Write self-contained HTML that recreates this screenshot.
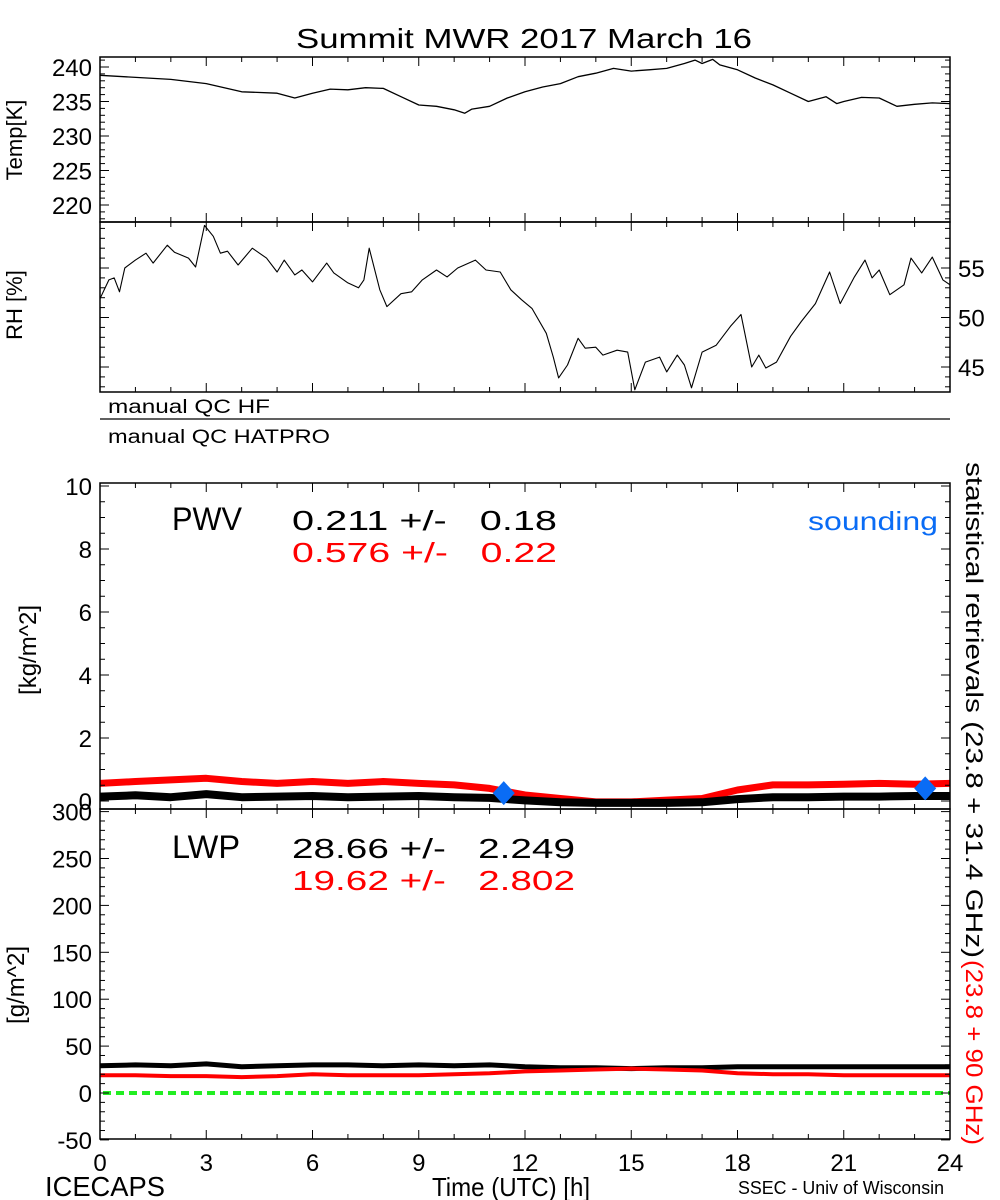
<!DOCTYPE html>
<html><head><meta charset="utf-8"><style>
html,body{margin:0;padding:0;background:#fff;}
svg{display:block;font-family:"Liberation Sans Narrow","Liberation Sans",sans-serif;}
</style></head><body>
<svg id="chart" width="1000" height="1200" viewBox="0 0 1000 1200" xmlns="http://www.w3.org/2000/svg">
<rect x="0" y="0" width="1000" height="1200" fill="#fff"/>
<text x="296" y="48" font-size="28" textLength="456" lengthAdjust="spacingAndGlyphs">Summit MWR 2017 March 16</text>
<g id="marks"></g>
<g id="axes"></g>
<text transform="translate(22,140) rotate(-90)" font-size="22" text-anchor="middle">Temp[K]</text>
<text transform="translate(22,305) rotate(-90)" font-size="22" text-anchor="middle">RH [%]</text>
<text transform="translate(36,650) rotate(-90)" font-size="24" text-anchor="middle">[kg/m^2]</text>
<text transform="translate(24,985) rotate(-90)" font-size="24" text-anchor="middle">[g/m^2]</text>
<line x1="100" y1="419" x2="950" y2="419" stroke="#000" stroke-width="1.2"/>
<text x="108" y="413" font-size="19" textLength="162" lengthAdjust="spacingAndGlyphs">manual QC HF</text>
<text x="108" y="443" font-size="19" textLength="222" lengthAdjust="spacingAndGlyphs">manual QC HATPRO</text>
<text x="172" y="530" font-size="32" textLength="70" lengthAdjust="spacingAndGlyphs">PWV</text>
<text x="292" y="530" font-size="28" xml:space="preserve" textLength="265" lengthAdjust="spacingAndGlyphs">0.211 +/-   0.18</text>
<text x="292" y="562" font-size="28" fill="#ff0000" xml:space="preserve" textLength="265" lengthAdjust="spacingAndGlyphs">0.576 +/-   0.22</text>
<text x="808" y="530" font-size="26" fill="#0a6cf5" textLength="130" lengthAdjust="spacingAndGlyphs">sounding</text>
<text x="172" y="858" font-size="32" textLength="68" lengthAdjust="spacingAndGlyphs">LWP</text>
<text x="292" y="858" font-size="28" xml:space="preserve" textLength="283" lengthAdjust="spacingAndGlyphs">28.66 +/-   2.249</text>
<text x="292" y="890" font-size="28" fill="#ff0000" xml:space="preserve" textLength="283" lengthAdjust="spacingAndGlyphs">19.62 +/-   2.802</text>
<text transform="translate(966,462) rotate(90)" font-size="24" textLength="496" lengthAdjust="spacingAndGlyphs">statistical retrievals (23.8 + 31.4 GHz)</text>
<text transform="translate(966,960) rotate(90)" font-size="24" fill="#ff0000" textLength="185" lengthAdjust="spacingAndGlyphs">(23.8 + 90 GHz)</text>
<text x="45" y="1196" font-size="28" textLength="120" lengthAdjust="spacingAndGlyphs">ICECAPS</text>
<text x="432" y="1196" font-size="26" textLength="158" lengthAdjust="spacingAndGlyphs">Time (UTC) [h]</text>
<text x="738" y="1194" font-size="18" textLength="206" lengthAdjust="spacingAndGlyphs">SSEC - Univ of Wisconsin</text>
</svg>
<script>
const tempHours = [0,2,3,4,5,5.5,6,6.5,7,7.5,8,8.5,9,9.5,10,10.3,10.5,11,11.5,12,12.5,13,13.5,14,14.5,15,15.5,16,16.5,16.8,17,17.3,17.5,18,18.5,19,19.5,20,20.5,20.8,21,21.5,22,22.5,23,23.5,24];
const tempValues = [238.8,238.2,237.6,236.4,236.2,235.5,236.2,236.8,236.7,237,236.9,235.7,234.5,234.3,233.8,233.3,233.9,234.3,235.5,236.4,237.1,237.6,238.6,239.1,239.8,239.4,239.6,239.8,240.5,241,240.5,241.1,240.3,239.6,238.4,237.4,236.2,235,235.7,234.7,235,235.6,235.5,234.3,234.6,234.8,234.7];
const rhHours = [0,0.25,0.4,0.55,0.7,1,1.3,1.5,1.9,2.1,2.5,2.7,2.95,3.2,3.4,3.6,3.9,4.3,4.7,5,5.2,5.5,5.7,6,6.4,6.6,7,7.3,7.45,7.6,7.9,8.1,8.5,8.8,9.1,9.5,9.8,10.1,10.6,10.9,11.3,11.6,11.9,12.2,12.6,12.8,12.95,13.2,13.5,13.7,14,14.2,14.6,14.9,15.1,15.4,15.8,16,16.3,16.5,16.7,17,17.4,17.8,18.1,18.4,18.6,18.8,19.1,19.5,19.8,20.2,20.6,20.9,21.3,21.6,21.8,22,22.3,22.7,22.9,23.2,23.5,23.8,24];
const rhValues = [51.9,53.8,54,52.6,55,55.8,56.5,55.5,57.3,56.6,56,55.1,59.3,58.2,56.5,56.7,55.3,57,56,54.6,55.8,54.3,54.8,53.6,55.5,54.5,53.5,53,53.8,57,52.8,51.1,52.4,52.6,53.8,54.8,54.1,55,55.8,54.8,54.6,52.8,51.8,50.9,48.4,46,43.9,45.2,47.9,46.9,47,46.2,46.7,46.5,42.7,45.5,46,44.5,46.2,45.2,42.9,46.5,47.2,49.1,50.3,45,46.2,44.9,45.5,48.1,49.6,51.4,54.6,51.4,54.1,55.8,54,54.8,52.3,53.3,56,54.5,56.1,53.8,53.3];
const hourly = [0,1,2,3,4,5,6,7,8,9,10,11,12,13,14,15,16,17,18,19,20,21,22,23,24];
const pwvRed = [0.56,0.62,0.67,0.72,0.62,0.56,0.62,0.56,0.62,0.56,0.51,0.40,0.19,0.08,-0.03,-0.03,0.03,0.08,0.35,0.51,0.51,0.53,0.56,0.53,0.56];
const pwvBlack = [0.14,0.18,0.12,0.22,0.12,0.14,0.16,0.12,0.14,0.16,0.12,0.1,0.02,-0.04,-0.06,-0.06,-0.06,-0.04,0.06,0.12,0.12,0.14,0.14,0.16,0.16];
const soundingHours = [11.4,23.3];
const soundingValues = [0.25,0.40];
const lwpBlack = [29,30,29,31,28,29,30,30,29,30,29,30,28,27,27,26,27,27,28,28,28,28,28,28,28];
const lwpRed = [19,19,18,18,17,18,20,19,19,19,20,21,23,24,25,26,25,24,21,20,20,19,19,19,19];
const xTickLabels = ["0","3","6","9","12","15","18","21","24"];
const tempTicks = [220,225,230,235,240];
const rhTicks = [45,50,55];
const pwvTicks = [0,2,4,6,8,10];
const lwpTicks = [-50,0,50,100,150,200,250,300];

const X0 = 100, X1 = 950;
const x = h => X0 + (X1 - X0) * h / 24;
const yTemp = v => 67 + (240 - v) * 34.5 / 5;
const yRH = v => 268 + (55 - v) * 49.5 / 5;
const yPWV = v => 801 - v * 31.5;
const yLWP = v => 1093 - v * 46.9 / 50;
const panels = [
  {name:'temp', top:57, bottom:222},
  {name:'rh', top:222, bottom:392},
  {name:'pwv', top:483, bottom:809},
  {name:'lwp', top:809, bottom:1139}
];
const NS = 'http://www.w3.org/2000/svg';
const marks = document.getElementById('marks');
const axes = document.getElementById('axes');
function mk(tag, parent){const e=document.createElementNS(NS,tag);parent.appendChild(e);return e;}
function pts(hs, vs, fy){return hs.map((h,i)=>x(h).toFixed(1)+','+fy(vs[i]).toFixed(1)).join(' ');}

const defs = mk('defs', marks);
panels.forEach(p=>{
  const c = mk('clipPath', defs); c.setAttribute('id','clip-'+p.name);
  const r = mk('rect', c); r.setAttribute('x',X0); r.setAttribute('y',p.top); r.setAttribute('width',X1-X0); r.setAttribute('height',p.bottom-p.top);
});

function line(hs, vs, fy, color, w, clip, name){
  const l = mk('polyline', marks);
  l.setAttribute('points', pts(hs, vs, fy));
  l.setAttribute('fill','none'); l.setAttribute('stroke',color); l.setAttribute('stroke-width',w);
  l.setAttribute('stroke-linejoin','round');
  l.setAttribute('clip-path','url(#clip-'+clip+')');
  
  
  return l;
}
line(tempHours, tempValues, yTemp, '#000', 1.3, 'temp', 'temperature-line');
line(rhHours, rhValues, yRH, '#000', 1.1, 'rh', 'rh-line');
line(hourly, pwvRed, yPWV, '#ff0000', 7, 'pwv', 'pwv-red-series');
line(hourly, pwvBlack, yPWV, '#000', 8, 'pwv', 'pwv-black-series');
line(hourly, lwpBlack, yLWP, '#000', 5, 'lwp', 'lwp-black-series');
line(hourly, lwpRed, yLWP, '#ff0000', 4, 'lwp', 'lwp-red-series');
const z = mk('line', marks);
z.setAttribute('x1', x(0)+3); z.setAttribute('x2', x(24)); z.setAttribute('y1', yLWP(0)); z.setAttribute('y2', yLWP(0));
z.setAttribute('stroke','#22ee22'); z.setAttribute('stroke-width','4'); z.setAttribute('stroke-dasharray','8 5');


soundingHours.forEach((h,i)=>{
  const cx = x(h), cy = yPWV(soundingValues[i]);
  const d = mk('polygon', marks);
  d.setAttribute('points', `${cx},${cy-12} ${cx+11},${cy} ${cx},${cy+12} ${cx-11},${cy}`);
  d.setAttribute('fill','#0a6cf5');
  
  
});

panels.forEach(p=>{
  const r = mk('rect', axes);
  r.setAttribute('x',X0); r.setAttribute('y',p.top); r.setAttribute('width',X1-X0); r.setAttribute('height',p.bottom-p.top);
  r.setAttribute('fill','none'); r.setAttribute('stroke','#000'); r.setAttribute('stroke-width','1.5');
  
  
  for(let h=0; h<=24; h++){
    const len = h%3===0 ? 9 : 5;
    [[p.top, len],[p.bottom, -len]].forEach(([yy,dl])=>{
      const t = mk('line', axes);
      t.setAttribute('x1',x(h)); t.setAttribute('x2',x(h)); t.setAttribute('y1',yy); t.setAttribute('y2',yy+dl);
      t.setAttribute('stroke','#000'); t.setAttribute('stroke-width','1');
      
      
    });
  }
});
function yTicks(ticks, fy, minorStep, lo, hi, labelSide, name){
  for(let v=lo; v<=hi+1e-9; v+=minorStep){
    const major = ticks.some(t=>Math.abs(t-v)<1e-6);
    const len = major ? 9 : 5;
    const yy = fy(v);
    [[X0,len],[X1,-len]].forEach(([xx,dl])=>{
      const t = mk('line', axes);
      t.setAttribute('x1',xx); t.setAttribute('x2',xx+dl); t.setAttribute('y1',yy); t.setAttribute('y2',yy);
      t.setAttribute('stroke','#000'); t.setAttribute('stroke-width','1');
      
      
    });
  }
  ticks.forEach(v=>{
    const t = mk('text', axes);
    t.textContent = String(v);
    t.setAttribute('font-size','24');
    t.setAttribute('y', fy(v)+9);
    if(labelSide==='left'){ t.setAttribute('x', 92); t.setAttribute('text-anchor','end'); }
    else { t.setAttribute('x', 958); }
    
    
  });
}
yTicks(tempTicks, yTemp, 1, 218, 241, 'left', 'temp');
yTicks(rhTicks, yRH, 1, 43, 59, 'right', 'rh');
yTicks(pwvTicks, yPWV, 0.5, 0, 10, 'left', 'pwv');
yTicks(lwpTicks, yLWP, 10, -50, 300, 'left', 'lwp');
xTickLabels.forEach((lab,i)=>{
  const t = mk('text', axes);
  t.textContent = lab;
  t.setAttribute('x', x(i*3)); t.setAttribute('y', 1171);
  t.setAttribute('font-size','24'); t.setAttribute('text-anchor','middle');
  
  
});
</script>
</body></html>
